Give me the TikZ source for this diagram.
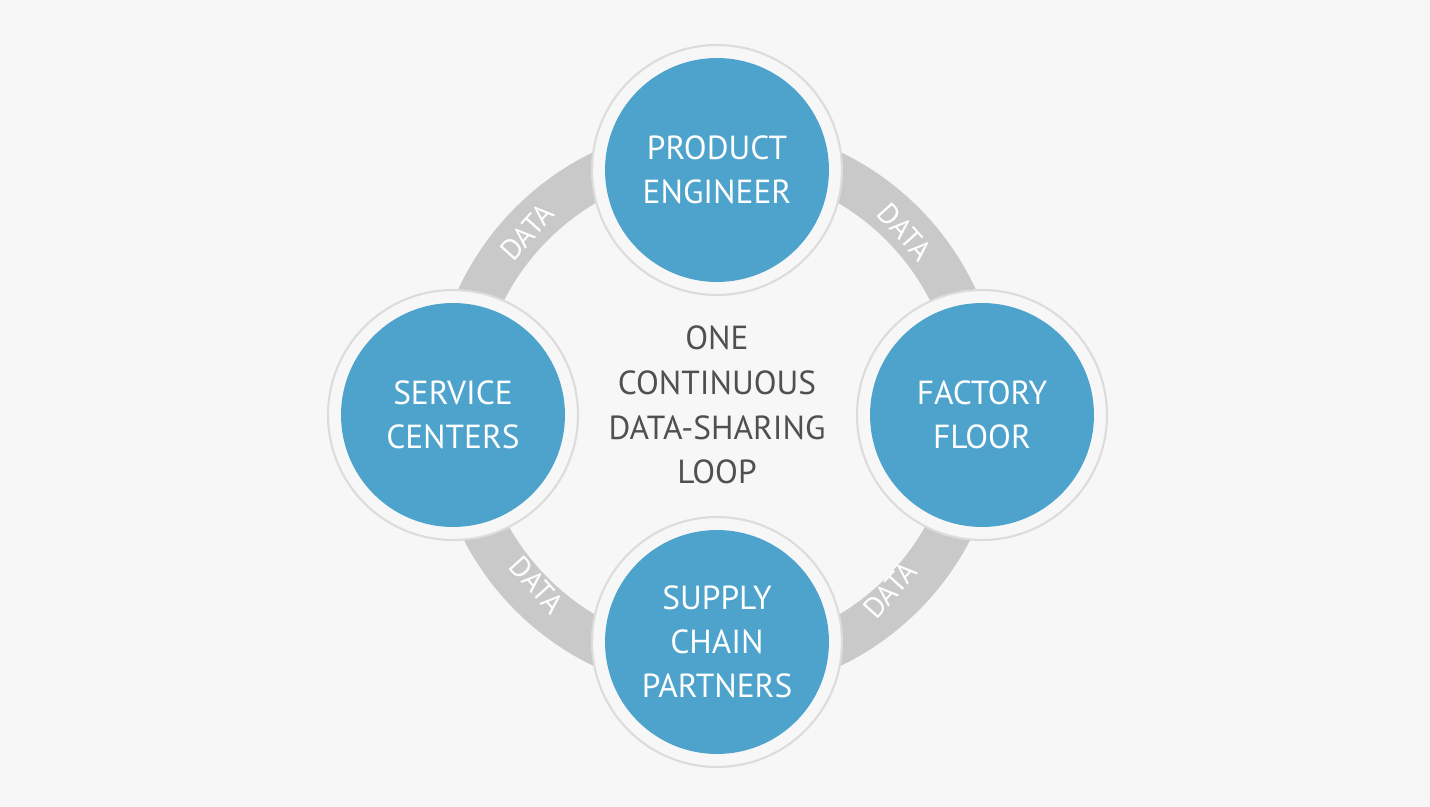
\documentclass[tikz,border=0pt]{standalone}
\usepackage{fontspec}
\setmainfont{PT Sans}
\definecolor{bgcol}{HTML}{F7F7F7}
\definecolor{loopcol}{HTML}{C9C9C9}
\definecolor{bluecol}{HTML}{4DA3CC}
\definecolor{ringcol}{HTML}{DCDCDC}
\definecolor{txtcol}{HTML}{505050}
\tikzset{
  stage/.style={circle,fill=bluecol,minimum size=4.48cm,align=center,text=white,
    font=\fontsize{19}{25}\selectfont},
  halo/.style={circle,draw=ringcol,line width=1.2pt,fill=bgcol,minimum size=5cm},
  datalbl/.style={text=white,font=\fontsize{16.5}{18}\selectfont}
}
\begin{document}
\begin{tikzpicture}[x=0.02cm,y=-0.02cm]
\fill[bgcol] (0,0) rectangle (1430,807);
\useasboundingbox (0,0) rectangle (1430,807);
% the loop
\draw[loopcol,line width=0.92cm] (717,409) circle [radius=262];
\node[datalbl,rotate=48] (d1) at (527,232) {DATA};
\node[datalbl,rotate=-48] (d2) at (905,232) {DATA};
\node[datalbl,rotate=-48] (d3) at (537,585) {DATA};
\node[datalbl,rotate=48] (d4) at (890,590) {DATA};
% stages
\foreach \n/\x/\y/\t in {top/717/170/{PRODUCT\\ENGINEER},
    right/982/415/{FACTORY\\FLOOR},
    bottom/717/642/{SUPPLY\\CHAIN\\PARTNERS},
    left/453/415/{SERVICE\\CENTERS}}{
  \node[halo] (h\n) at (\x,\y) {};
  \node[stage] (\n) at (\x,\y) {\t};
}
\node[align=center,text=txtcol,font=\fontsize{19}{25.5}\selectfont] (center) at (717,405)
  {ONE\\CONTINUOUS\\DATA-SHARING\\LOOP};
\end{tikzpicture}
\end{document}
